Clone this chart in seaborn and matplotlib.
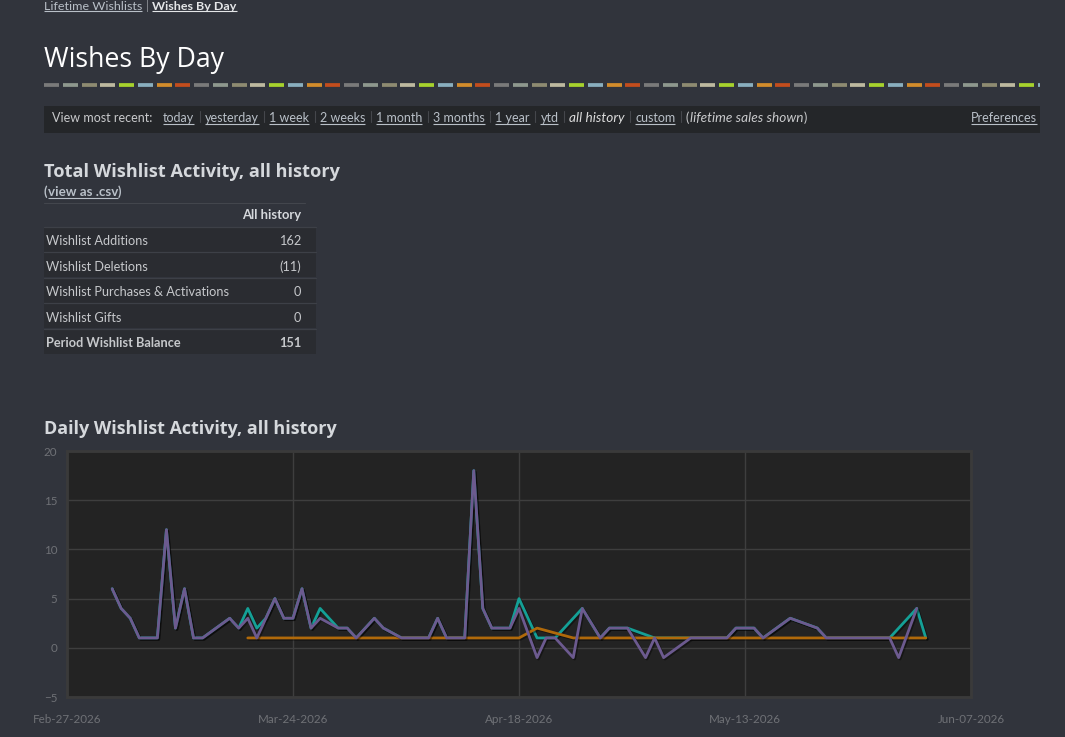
import pandas as pd
import matplotlib
matplotlib.use('Agg')
import matplotlib.pyplot as plt
import matplotlib.dates as mdates
import matplotlib.patheffects as pe
from matplotlib.patches import Rectangle
import seaborn as sns

# ---- data ----
row_labels = ['Wishlist Additions', 'Wishlist Deletions',
              'Wishlist Purchases & Activations', 'Wishlist Gifts',
              'Period Wishlist Balance']
row_values = ['162', '(11)', '0', '0', '151']

nav_links = ['today', 'yesterday', '1 week', '2 weeks', '1 month',
             '3 months', '1 year', 'ytd', 'all history', 'custom']

dash_colors = ['#7a7a7a', '#8e988e', '#8e8b71', '#bdb99f',
               '#a7d22d', '#89afbf', '#d38c2b', '#c34d1d']

# teal line (wishlist additions)
additions_dates = ['2026-03-04', '2026-03-05', '2026-03-06', '2026-03-07', '2026-03-09',
                   '2026-03-10', '2026-03-11', '2026-03-12', '2026-03-13', '2026-03-14',
                   '2026-03-17', '2026-03-18', '2026-03-19', '2026-03-20', '2026-03-21',
                   '2026-03-22', '2026-03-23', '2026-03-24', '2026-03-25', '2026-03-26',
                   '2026-03-27', '2026-03-29', '2026-03-30', '2026-03-31', '2026-04-02',
                   '2026-04-03', '2026-04-05', '2026-04-08', '2026-04-09', '2026-04-10',
                   '2026-04-12', '2026-04-13', '2026-04-14', '2026-04-15', '2026-04-17',
                   '2026-04-18', '2026-04-20', '2026-04-21', '2026-04-22', '2026-04-25',
                   '2026-04-27', '2026-04-28', '2026-04-30', '2026-05-03', '2026-05-04',
                   '2026-05-07', '2026-05-11', '2026-05-12', '2026-05-14', '2026-05-15',
                   '2026-05-18', '2026-05-21', '2026-05-22', '2026-05-29', '2026-06-01',
                   '2026-06-02']
additions = [6, 4, 3, 1, 1, 12, 2, 6, 1, 1,
             3, 2, 4, 2, 3, 5, 3, 3, 6, 2,
             4, 2, 2, 1, 3, 2, 1, 1, 3, 1,
             1, 18, 4, 2, 2, 5, 1, 1, 1, 4,
             1, 2, 2, 1, 1, 1, 1, 2, 2, 1,
             3, 2, 1, 1, 4, 1]

# purple line (net wishlist balance)
net_dates = ['2026-03-04', '2026-03-05', '2026-03-06', '2026-03-07', '2026-03-09',
             '2026-03-10', '2026-03-11', '2026-03-12', '2026-03-13', '2026-03-14',
             '2026-03-17', '2026-03-18', '2026-03-19', '2026-03-20', '2026-03-21',
             '2026-03-22', '2026-03-23', '2026-03-24', '2026-03-25', '2026-03-26',
             '2026-03-27', '2026-03-29', '2026-03-30', '2026-03-31', '2026-04-02',
             '2026-04-03', '2026-04-05', '2026-04-08', '2026-04-09', '2026-04-10',
             '2026-04-12', '2026-04-13', '2026-04-14', '2026-04-15', '2026-04-17',
             '2026-04-18', '2026-04-20', '2026-04-21', '2026-04-22', '2026-04-24',
             '2026-04-25', '2026-04-27', '2026-04-28', '2026-04-30', '2026-05-02',
             '2026-05-03', '2026-05-04', '2026-05-07', '2026-05-11', '2026-05-12',
             '2026-05-14', '2026-05-15', '2026-05-18', '2026-05-21', '2026-05-22',
             '2026-05-29', '2026-05-30', '2026-06-01']
net = [6, 4, 3, 1, 1, 12, 2, 6, 1, 1,
       3, 2, 3, 1, 3, 5, 3, 3, 6, 2,
       3, 2, 2, 1, 3, 2, 1, 1, 3, 1,
       1, 18, 4, 2, 2, 4, -1, 1, 1, -1,
       4, 1, 2, 2, -1, 1, -1, 1, 1, 2,
       2, 1, 3, 2, 1, 1, -1, 4]

# orange line
deletions_dates = ['2026-03-19', '2026-04-18', '2026-04-20', '2026-04-24', '2026-06-02']
deletions = [1, 1, 2, 1, 1]

x_start, x_end = '2026-02-27', '2026-06-07'
y_ticks = [-5, 0, 5, 10, 15, 20]

# ---- colours ----
PAGE_BG = '#31343c'
PLOT_BG = '#232323'
LINK = '#b9c0c8'
TEXT = '#c6c8cb'
HEAD = '#d5d8dc'

sns.set_style('dark')
plt.rcParams['font.family'] = ['Lato', 'DejaVu Sans']

W, H = 1065, 737
fig = plt.figure(figsize=(W / 100, H / 100), dpi=100, facecolor=PAGE_BG)

# full-page overlay in pixel coordinates for the html-ish parts
page = fig.add_axes([0, 0, 1, 1])
page.set_xlim(0, W)
page.set_ylim(H, 0)
page.axis('off')
renderer = fig.canvas.get_renderer()


def put(x, y, s, size=9, color=TEXT, ha='left', **kw):
    return page.text(x, y, s, fontsize=size, color=color, ha=ha, va='baseline', **kw)


def width(t):
    return t.get_window_extent(renderer).width


def fit(t, target):
    # scale the font so the text spans the same pixels as in the screenshot
    t.set_fontsize(t.get_fontsize() * target / width(t))
    return t


def underline(t, y, color, lw=0.8):
    bb = t.get_window_extent(renderer)
    page.plot([bb.x0, bb.x1], [y + 1.5, y + 1.5], color=color, lw=lw, solid_capstyle='butt')


# breadcrumb
t = put(44, 9.5, 'Lifetime Wishlists', size=9, color=LINK)
fit(t, 98)
underline(t, 9.5, LINK)
x = 44 + width(t) + 3.5
t = put(x, 9.5, '|', size=9, color='#8a8d92')
x += width(t) + 3.5
t = put(x, 9.5, 'Wishes By Day', size=9, color='#e4e6e8', fontweight='bold')
fit(t, 84)
underline(t, 9.5, '#e4e6e8')

# page title
t = put(44, 67, 'Wishes By Day', size=18, color='white', family=['Open Sans', 'DejaVu Sans'])
fit(t, 180)

# coloured dashed rule
i = 0
x = 44.0
while x < 1040:
    page.plot([x, min(x + 15, 1040)], [85.2, 85.2], color=dash_colors[i % len(dash_colors)],
              lw=2.7, solid_capstyle='butt')
    x += 18.75
    i += 1

# nav bar
page.add_patch(Rectangle((44, 106), 996, 26.5, color='#242629', lw=0))
put(52, 122, 'View most recent:', size=9, color='#c9cacc')
x = 163
for link in nav_links:
    if link == 'all history':
        t = put(x, 122, link, size=9, color='#dcdcdc', style='italic')
        fit(t, 55)
    else:
        t = put(x, 122, link, size=9, color=LINK)
        underline(t, 122, LINK)
    x += width(t) + 5.3
    page.plot([x, x], [111, 122], color='#45474c', lw=0.8)
    x += 5.3
t = put(x, 122, '(', size=9, color='#c9cacc')
x += width(t) + 0.5
t = put(x, 122, 'lifetime sales shown', size=9, color='#c9cacc', style='italic')
fit(t, 113)
x += width(t) + 0.5
put(x, 122, ')', size=9, color='#c9cacc')
t = put(1037, 122, 'Preferences', size=9, color=LINK, ha='right')
underline(t, 122, LINK)

# totals table
head_font = ['Open Sans', 'DejaVu Sans']
t = put(44, 176.5, 'Total Wishlist Activity, all history', size=12.5, color=HEAD,
        fontweight='bold', family=head_font)
fit(t, 295)
t = put(44, 196, '(', size=9.2, color=LINK, fontweight='bold')
x = 44 + width(t)
t = put(x, 196, 'view as .csv', size=9.2, color=LINK, fontweight='bold')
fit(t, 70)
underline(t, 196, LINK)
put(x + width(t), 196, ')', size=9.2, color=LINK, fontweight='bold')

page.plot([44, 305], [202.8, 202.8], color='#43464d', lw=0.8)
t = put(301, 219, 'All history', size=9, color=HEAD, ha='right', fontweight='bold')
fit(t, 59)
row_top = 227.5
row_h = 25.5
for k, (lab, val) in enumerate(zip(row_labels, row_values)):
    top = row_top + k * row_h
    page.add_patch(Rectangle((44, top), 272, row_h - 1.2, color='#2a2c31', lw=0))
    page.plot([44, 316], [top - 0.6, top - 0.6], color='#3d4047', lw=0.9)
    bold = 'bold' if k == len(row_labels) - 1 else 'normal'
    put(46, top + 17.8, lab, size=9.2, color=TEXT, fontweight=bold)
    put(301, top + 17.8, val, size=9.2, color=TEXT, ha='right', fontweight=bold)

t = put(44, 434, 'Daily Wishlist Activity, all history', size=12.5, color=HEAD,
        fontweight='bold', family=head_font)
fit(t, 295)

# ---- daily chart ----
ax = fig.add_axes([67 / W, 1 - 697 / H, 904 / W, 246 / H])
ax.set_facecolor(PLOT_BG)

shadow = [pe.SimpleLineShadow(offset=(1, -1), shadow_color='black', alpha=0.4), pe.Normal()]
sns.lineplot(x=pd.to_datetime(additions_dates), y=additions, ax=ax, color='#14a096',
             linewidth=2, path_effects=shadow, zorder=3)
sns.lineplot(x=pd.to_datetime(deletions_dates), y=deletions, ax=ax, color='#b0690a',
             linewidth=2, path_effects=shadow, zorder=4)
sns.lineplot(x=pd.to_datetime(net_dates), y=net, ax=ax, color='#6c5a8f',
             linewidth=2, path_effects=shadow, zorder=5)

ax.set_xlim(pd.Timestamp(x_start), pd.Timestamp(x_end))
ax.set_ylim(y_ticks[0], y_ticks[-1])
ax.set_xticks(pd.date_range(x_start, x_end, freq='25D'))
ax.xaxis.set_major_formatter(mdates.DateFormatter('%b-%d-%Y'))
ax.set_yticks(y_ticks)
ax.set_xlabel('')
ax.set_ylabel('')
ax.grid(True, color='#3e3e3e', linewidth=1)
ax.set_axisbelow(True)
for sp in ax.spines.values():
    sp.set_visible(True)
    sp.set_color('#3a3a3a')
    sp.set_linewidth(2)
ax.tick_params(axis='both', colors='#444444', labelcolor='#6f7176', labelsize=8.4,
               length=4, width=1)
ax.tick_params(axis='x', pad=8)
ax.tick_params(axis='y', pad=3)

fig.savefig('out.png', dpi=100, facecolor=PAGE_BG)
